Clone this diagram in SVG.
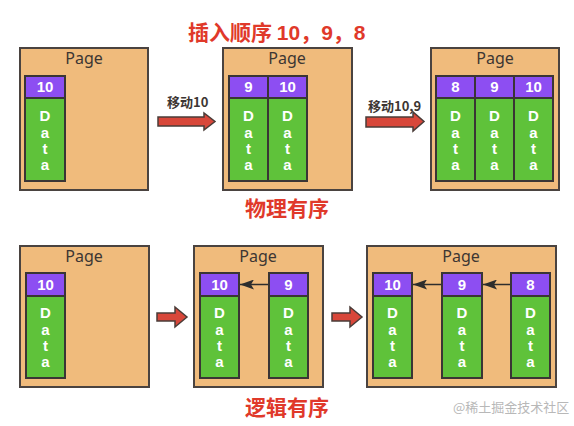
<svg xmlns="http://www.w3.org/2000/svg" width="574" height="426" viewBox="0 0 574 426">
<style>
.page{fill:#f0bb7c;stroke:#4a4340;stroke-width:2}
.hd{fill:#8d4ef2;stroke:#3a3535;stroke-width:2}
.dt{fill:#5fc23a;stroke:#3a3535;stroke-width:2}
.pt{font-family:"Noto Sans","Open Sans",sans-serif;font-size:16px;fill:#3d3633;text-anchor:middle}
.num{font-family:"Liberation Sans",Arial,sans-serif;font-weight:bold;font-size:15px;fill:#fff;text-anchor:middle}
.red{font-family:"Noto Sans CJK SC",sans-serif;font-weight:bold;font-size:21px;fill:#e0392a}
.dig{font-family:"Liberation Sans",Arial,sans-serif}
.mv{font-family:"Noto Sans CJK SC",sans-serif;font-weight:bold;font-size:13px;fill:#3d3633}
.arr{fill:#d8473a;stroke:#4a3c38;stroke-width:1.5;stroke-linejoin:miter}
.lnk{stroke:#2d2d2d;stroke-width:1.5;fill:none}
.wm{font-family:"Noto Sans CJK SC",sans-serif;font-size:13px;fill:#b8b8b8}
</style>
<defs>
<marker id="ah" viewBox="0 0 14 10" refX="14" refY="5" markerWidth="14" markerHeight="10" markerUnits="userSpaceOnUse" orient="auto">
<path d="M0,0 L14,5 L0,10 L3,5 Z" fill="#2d2d2d"/>
</marker>
<g id="datacol">
<text class="num" x="0" y="121">D</text>
<text class="num" x="0" y="138">a</text>
<text class="num" x="0" y="154">t</text>
<text class="num" x="0" y="170">a</text>
</g>
</defs>
<rect width="574" height="426" fill="#fff"/>

<text class="red" x="188" y="40">插入顺序 <tspan class="dig">10</tspan>，<tspan class="dig">9</tspan>，<tspan class="dig">8</tspan></text>
<text class="red" x="287" y="216" text-anchor="middle">物理有序</text>
<text class="red" x="287" y="415" text-anchor="middle">逻辑有序</text>
<text class="wm" x="453" y="412">@稀土掘金技术社区</text>

<g id="page1">
<rect class="page" x="20" y="48" width="128" height="142"/>
<text class="pt" x="84" y="64">Page</text>
<rect class="hd" x="25" y="76" width="40" height="22"/>
<rect class="dt" x="25" y="98" width="40" height="83"/>
<text class="num" x="45" y="92">10</text>
<use href="#datacol" x="45"/>
</g>

<g id="page2">
<rect class="page" x="223" y="48" width="129" height="142"/>
<text class="pt" x="287" y="64">Page</text>
<rect class="hd" x="229" y="76" width="39" height="22"/>
<rect class="dt" x="229" y="98" width="39" height="83"/>
<rect class="hd" x="268" y="76" width="39" height="22"/>
<rect class="dt" x="268" y="98" width="39" height="83"/>
<text class="num" x="248.5" y="92">9</text>
<text class="num" x="287.5" y="92">10</text>
<use href="#datacol" x="248.5"/>
<use href="#datacol" x="287.5"/>
</g>

<g id="page3">
<rect class="page" x="431" y="48" width="128" height="142"/>
<text class="pt" x="495" y="64">Page</text>
<rect class="hd" x="436" y="76" width="39" height="22"/>
<rect class="dt" x="436" y="98" width="39" height="83"/>
<rect class="hd" x="475" y="76" width="39" height="22"/>
<rect class="dt" x="475" y="98" width="39" height="83"/>
<rect class="hd" x="514" y="76" width="39" height="22"/>
<rect class="dt" x="514" y="98" width="39" height="83"/>
<text class="num" x="455.5" y="92">8</text>
<text class="num" x="494.5" y="92">9</text>
<text class="num" x="533.5" y="92">10</text>
<use href="#datacol" x="455.5"/>
<use href="#datacol" x="494.5"/>
<use href="#datacol" x="533.5"/>
</g>

<g id="page4">
<rect class="page" x="20" y="246" width="129" height="141"/>
<text class="pt" x="84" y="262">Page</text>
<rect class="hd" x="26" y="273" width="39" height="23"/>
<rect class="dt" x="26" y="296" width="39" height="82"/>
<text class="num" x="45.5" y="290">10</text>
<use href="#datacol" x="45.5" y="197"/>
</g>

<g id="page5">
<rect class="page" x="194" y="246" width="129" height="141"/>
<text class="pt" x="258" y="262">Page</text>
<rect class="hd" x="200" y="273" width="39" height="23"/>
<rect class="dt" x="200" y="296" width="39" height="82"/>
<rect class="hd" x="269" y="273" width="39" height="23"/>
<rect class="dt" x="269" y="296" width="39" height="82"/>
<text class="num" x="219.5" y="290">10</text>
<text class="num" x="288.5" y="290">9</text>
<use href="#datacol" x="219.5" y="197"/>
<use href="#datacol" x="288.5" y="197"/>
</g>

<g id="page6">
<rect class="page" x="367" y="246" width="189" height="141"/>
<text class="pt" x="461" y="262">Page</text>
<rect class="hd" x="373" y="273" width="39" height="23"/>
<rect class="dt" x="373" y="296" width="39" height="82"/>
<rect class="hd" x="442" y="273" width="40" height="23"/>
<rect class="dt" x="442" y="296" width="40" height="82"/>
<rect class="hd" x="511" y="273" width="39" height="23"/>
<rect class="dt" x="511" y="296" width="39" height="82"/>
<text class="num" x="392.5" y="290">10</text>
<text class="num" x="462" y="290">9</text>
<text class="num" x="530.5" y="290">8</text>
<use href="#datacol" x="392.5" y="197"/>
<use href="#datacol" x="462" y="197"/>
<use href="#datacol" x="530.5" y="197"/>
</g>

<g id="connectors">
<text class="mv" x="167" y="107">移动10</text>
<path class="arr" d="M158,117 L204,117 L204,113 L215,121.5 L204,130 L204,126 L158,126 Z"/>
<text class="mv" x="368" y="111">移动10,9</text>
<path class="arr" d="M366,117 L413,117 L413,112 L424,121.5 L413,131 L413,127 L366,127 Z"/>
<path class="arr" d="M157,313 L175,313 L175,307 L187,317 L175,327 L175,321 L157,321 Z"/>
<path class="arr" d="M332,313 L350,313 L350,307 L362,317 L350,327 L350,321 L332,321 Z"/>
<line class="lnk" x1="268" y1="284.5" x2="240" y2="284.5" marker-end="url(#ah)"/>
<line class="lnk" x1="441" y1="284.5" x2="413" y2="284.5" marker-end="url(#ah)"/>
<line class="lnk" x1="510" y1="284.5" x2="483" y2="284.5" marker-end="url(#ah)"/>
</g>
</svg>
